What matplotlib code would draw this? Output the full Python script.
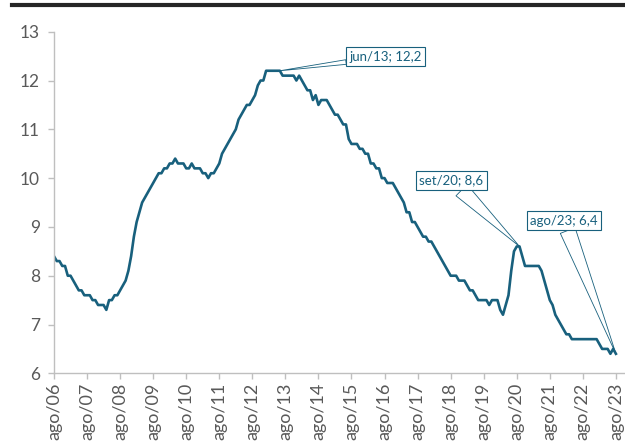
import matplotlib
matplotlib.use("Agg")
import matplotlib.pyplot as plt
from matplotlib.lines import Line2D

plt.rcParams["font.family"] = ["Lato", "DejaVu Sans"]

LINE_COLOR = "#18607D"
TEXT_GRAY = "#595959"
AXIS_GRAY = "#BFBFBF"

# monthly values, ago/06 .. ago/23 (one row per year, starting in August)
values = [
    8.4, 8.3, 8.3, 8.2, 8.2, 8.0, 8.0, 7.9, 7.8, 7.7, 7.7, 7.6,
    7.6, 7.6, 7.5, 7.5, 7.4, 7.4, 7.4, 7.3, 7.5, 7.5, 7.6, 7.6,
    7.7, 7.8, 7.9, 8.1, 8.4, 8.8, 9.1, 9.3, 9.5, 9.6, 9.7, 9.8,
    9.9, 10.0, 10.1, 10.1, 10.2, 10.2, 10.3, 10.3, 10.4, 10.3, 10.3, 10.3,
    10.2, 10.2, 10.3, 10.2, 10.2, 10.2, 10.1, 10.1, 10.0, 10.1, 10.1, 10.2,
    10.3, 10.5, 10.6, 10.7, 10.8, 10.9, 11.0, 11.2, 11.3, 11.4, 11.5, 11.5,
    11.6, 11.7, 11.9, 12.0, 12.0, 12.2, 12.2, 12.2, 12.2, 12.2, 12.2, 12.1,
    12.1, 12.1, 12.1, 12.1, 12.0, 12.1, 12.0, 11.9, 11.8, 11.8, 11.6, 11.7,
    11.5, 11.6, 11.6, 11.6, 11.5, 11.4, 11.3, 11.3, 11.2, 11.1, 11.1, 10.8,
    10.7, 10.7, 10.7, 10.6, 10.6, 10.5, 10.5, 10.3, 10.3, 10.2, 10.2, 10.0,
    10.0, 9.9, 9.9, 9.9, 9.8, 9.7, 9.6, 9.5, 9.3, 9.3, 9.1, 9.1,
    9.0, 8.9, 8.8, 8.8, 8.7, 8.7, 8.6, 8.5, 8.4, 8.3, 8.2, 8.1,
    8.0, 8.0, 8.0, 7.9, 7.9, 7.9, 7.8, 7.7, 7.7, 7.6, 7.5, 7.5,
    7.5, 7.5, 7.4, 7.5, 7.5, 7.5, 7.3, 7.2, 7.4, 7.6, 8.1, 8.5,
    8.6, 8.6, 8.4, 8.2, 8.2, 8.2, 8.2, 8.2, 8.2, 8.1, 7.9, 7.7,
    7.5, 7.4, 7.2, 7.1, 7.0, 6.9, 6.8, 6.8, 6.7, 6.7, 6.7, 6.7,
    6.7, 6.7, 6.7, 6.7, 6.7, 6.7, 6.6, 6.5, 6.5, 6.5, 6.4, 6.5,
    6.4,
]
months = list(range(len(values)))

tick_labels = ["ago/06", "ago/07", "ago/08", "ago/09", "ago/10", "ago/11",
               "ago/12", "ago/13", "ago/14", "ago/15", "ago/16", "ago/17",
               "ago/18", "ago/19", "ago/20", "ago/21", "ago/22", "ago/23"]
y_ticks = [6, 7, 8, 9, 10, 11, 12, 13]

# highlighted points: (label, month index)
callout_labels = ["jun/13; 12,2", "set/20; 8,6", "ago/23; 6,4"]
callout_months = [82, 169, 204]

fig = plt.figure(figsize=(6.25, 4.43), dpi=100)
ax = fig.add_axes([0.0864, 0.1573, 0.9136, 0.7711])

ax.plot(months, values, color=LINE_COLOR, lw=1.9, solid_joinstyle="round")

ax.set_xlim(0, 207.3)
ax.set_ylim(6, 13)
ax.set_yticks(y_ticks)
ax.set_xticks([12 * i for i in range(len(tick_labels))])
ax.set_xticklabels(tick_labels, rotation=90, va="top", ha="center")

for s in ["top", "right"]:
    ax.spines[s].set_visible(False)
for s in ["left", "bottom"]:
    ax.spines[s].set_color(AXIS_GRAY)
    ax.spines[s].set_linewidth(1.0)
ax.tick_params(axis="both", colors=AXIS_GRAY, labelcolor=TEXT_GRAY,
               length=4, width=1.0)
ax.tick_params(axis="x", pad=3, labelsize=13)
ax.tick_params(axis="y", pad=6, labelsize=12.5)

# callout boxes (offsets in pixels from the point, wedge base width)
offsets = [(106, 14), (-68, 66), (-52, 133)]
wedges = [0.35, 1.2, 1.2]
for txt, m, (dx, dy), tw in zip(callout_labels, callout_months, offsets, wedges):
    ax.annotate(txt, xy=(m, values[m]), xytext=(dx, dy), textcoords="offset pixels",
                ha="center", va="center", fontsize=9.5, color=LINE_COLOR, zorder=5,
                bbox=dict(boxstyle="square,pad=0.25", fc="white", ec=LINE_COLOR, lw=0.8),
                arrowprops=dict(arrowstyle=f"wedge,tail_width={tw}", fc="none",
                                ec=LINE_COLOR, lw=0.6, shrinkA=0, shrinkB=0))

# thick rule across the top
fig.add_artist(Line2D([0.019, 1.0], [0.989, 0.989], color="#262626", lw=3))

fig.savefig("out.png", dpi=100)
